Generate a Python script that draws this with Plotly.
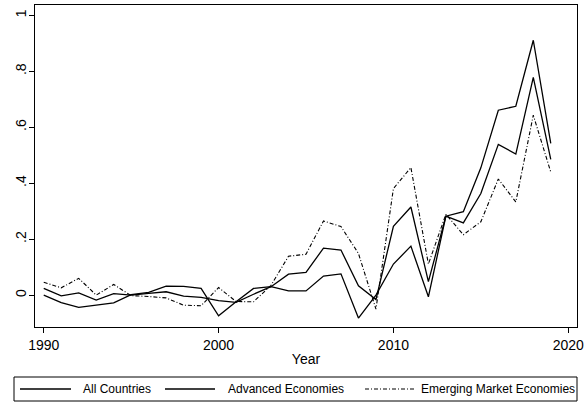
import plotly.graph_objects as go

# Annual series, 1990-2019
years = list(range(1990, 2020))

all_countries = [
    0.024, -0.003, 0.008, -0.018, 0.005, 0.000, 0.006, 0.012, -0.004, -0.008,
    -0.020, -0.026, 0.003, 0.030, 0.075, 0.081, 0.168, 0.161, 0.033, -0.016,
    0.246, 0.315, 0.048, 0.282, 0.258, 0.363, 0.539, 0.504, 0.778, 0.485,
]

advanced = [
    0.000, -0.027, -0.044, -0.037, -0.028, 0.002, 0.010, 0.032, 0.031, 0.024,
    -0.074, -0.024, 0.024, 0.030, 0.015, 0.015, 0.068, 0.076, -0.082, 0.000,
    0.111, 0.175, -0.006, 0.282, 0.298, 0.455, 0.661, 0.675, 0.911, 0.542,
]

emerging = [
    0.046, 0.026, 0.060, 0.000, 0.038, -0.002, -0.005, -0.010, -0.036, -0.038,
    0.027, -0.023, -0.024, 0.035, 0.139, 0.146, 0.265, 0.245, 0.149, -0.050,
    0.381, 0.456, 0.111, 0.289, 0.216, 0.262, 0.415, 0.333, 0.643, 0.440,
]

series_names = ["All Countries", "Advanced Economies", "Emerging Market Economies"]

y_tickvals = [0, 0.2, 0.4, 0.6, 0.8, 1]
y_ticktext = ["0", ".2", ".4", ".6", ".8", "1"]
x_tickvals = [1990, 2000, 2010, 2020]

FONT = "Liberation Sans, Arial, sans-serif"
SOLID = dict(color="black", width=1.3)
DASHDOT = dict(color="black", width=1.1, dash="4px,2px,1px,2px")
styles = [SOLID, SOLID, DASHDOT]

W, H = 584, 406
ML, MR, MT, MB = 35, 7, 5, 79
PW, PH = W - ML - MR, H - MT - MB


def px_x(p):
    """Horizontal pixel position -> paper fraction."""
    return (p - ML) / PW


def px_y(p):
    """Vertical pixel position (from top) -> paper fraction."""
    return (H - MB - p) / PH


fig = go.Figure()
for name, vals, st in zip(series_names, [all_countries, advanced, emerging], styles):
    fig.add_trace(go.Scatter(x=years, y=vals, mode="lines", name=name,
                             line=st, showlegend=False))

# Boxed legend row beneath the axis title
shapes = [dict(type="rect", xref="paper", yref="paper",
               x0=px_x(14), x1=px_x(577), y0=px_y(377), y1=px_y(401),
               line=dict(color="black", width=1), fillcolor="white")]
annotations = []
sample_x = [(20, 71), (165, 215), (365, 414)]
text_x = [81, 226, 419]
row_y = 389
for name, st, (a, b), tx in zip(series_names, styles, sample_x, text_x):
    shapes.append(dict(type="line", xref="paper", yref="paper",
                       x0=px_x(a), x1=px_x(b), y0=px_y(row_y), y1=px_y(row_y),
                       line=st))
    annotations.append(dict(xref="paper", yref="paper", x=px_x(tx), y=px_y(row_y),
                            xanchor="left", yanchor="middle", showarrow=False,
                            text=name, font=dict(size=12, family=FONT, color="black")))

fig.update_layout(
    width=W, height=H,
    margin=dict(l=ML, r=MR, t=MT, b=MB),
    paper_bgcolor="white", plot_bgcolor="white",
    font=dict(family=FONT, color="black"),
    showlegend=False,
    shapes=shapes,
    annotations=annotations,
)

fig.update_xaxes(
    range=[1989.5, 2020.5],
    tickvals=x_tickvals,
    ticks="outside", ticklen=5, tickwidth=1, tickcolor="black",
    tickfont=dict(size=14),
    ticklabeloverflow="allow",
    automargin=False,
    showgrid=False, zeroline=False,
    showline=True, linecolor="black", linewidth=1.2, mirror=True,
    title=dict(text="Year", font=dict(size=14), standoff=2),
)
fig.update_yaxes(
    range=[-0.114, 1.037],
    tickvals=y_tickvals, ticktext=y_ticktext,
    tickangle=-90,
    ticks="outside", ticklen=5, tickwidth=1, tickcolor="black",
    tickfont=dict(size=14),
    ticklabelstandoff=-3,
    automargin=False,
    showgrid=False, zeroline=False,
    showline=True, linecolor="black", linewidth=1.2, mirror=True,
)

fig.write_html("out.html")
